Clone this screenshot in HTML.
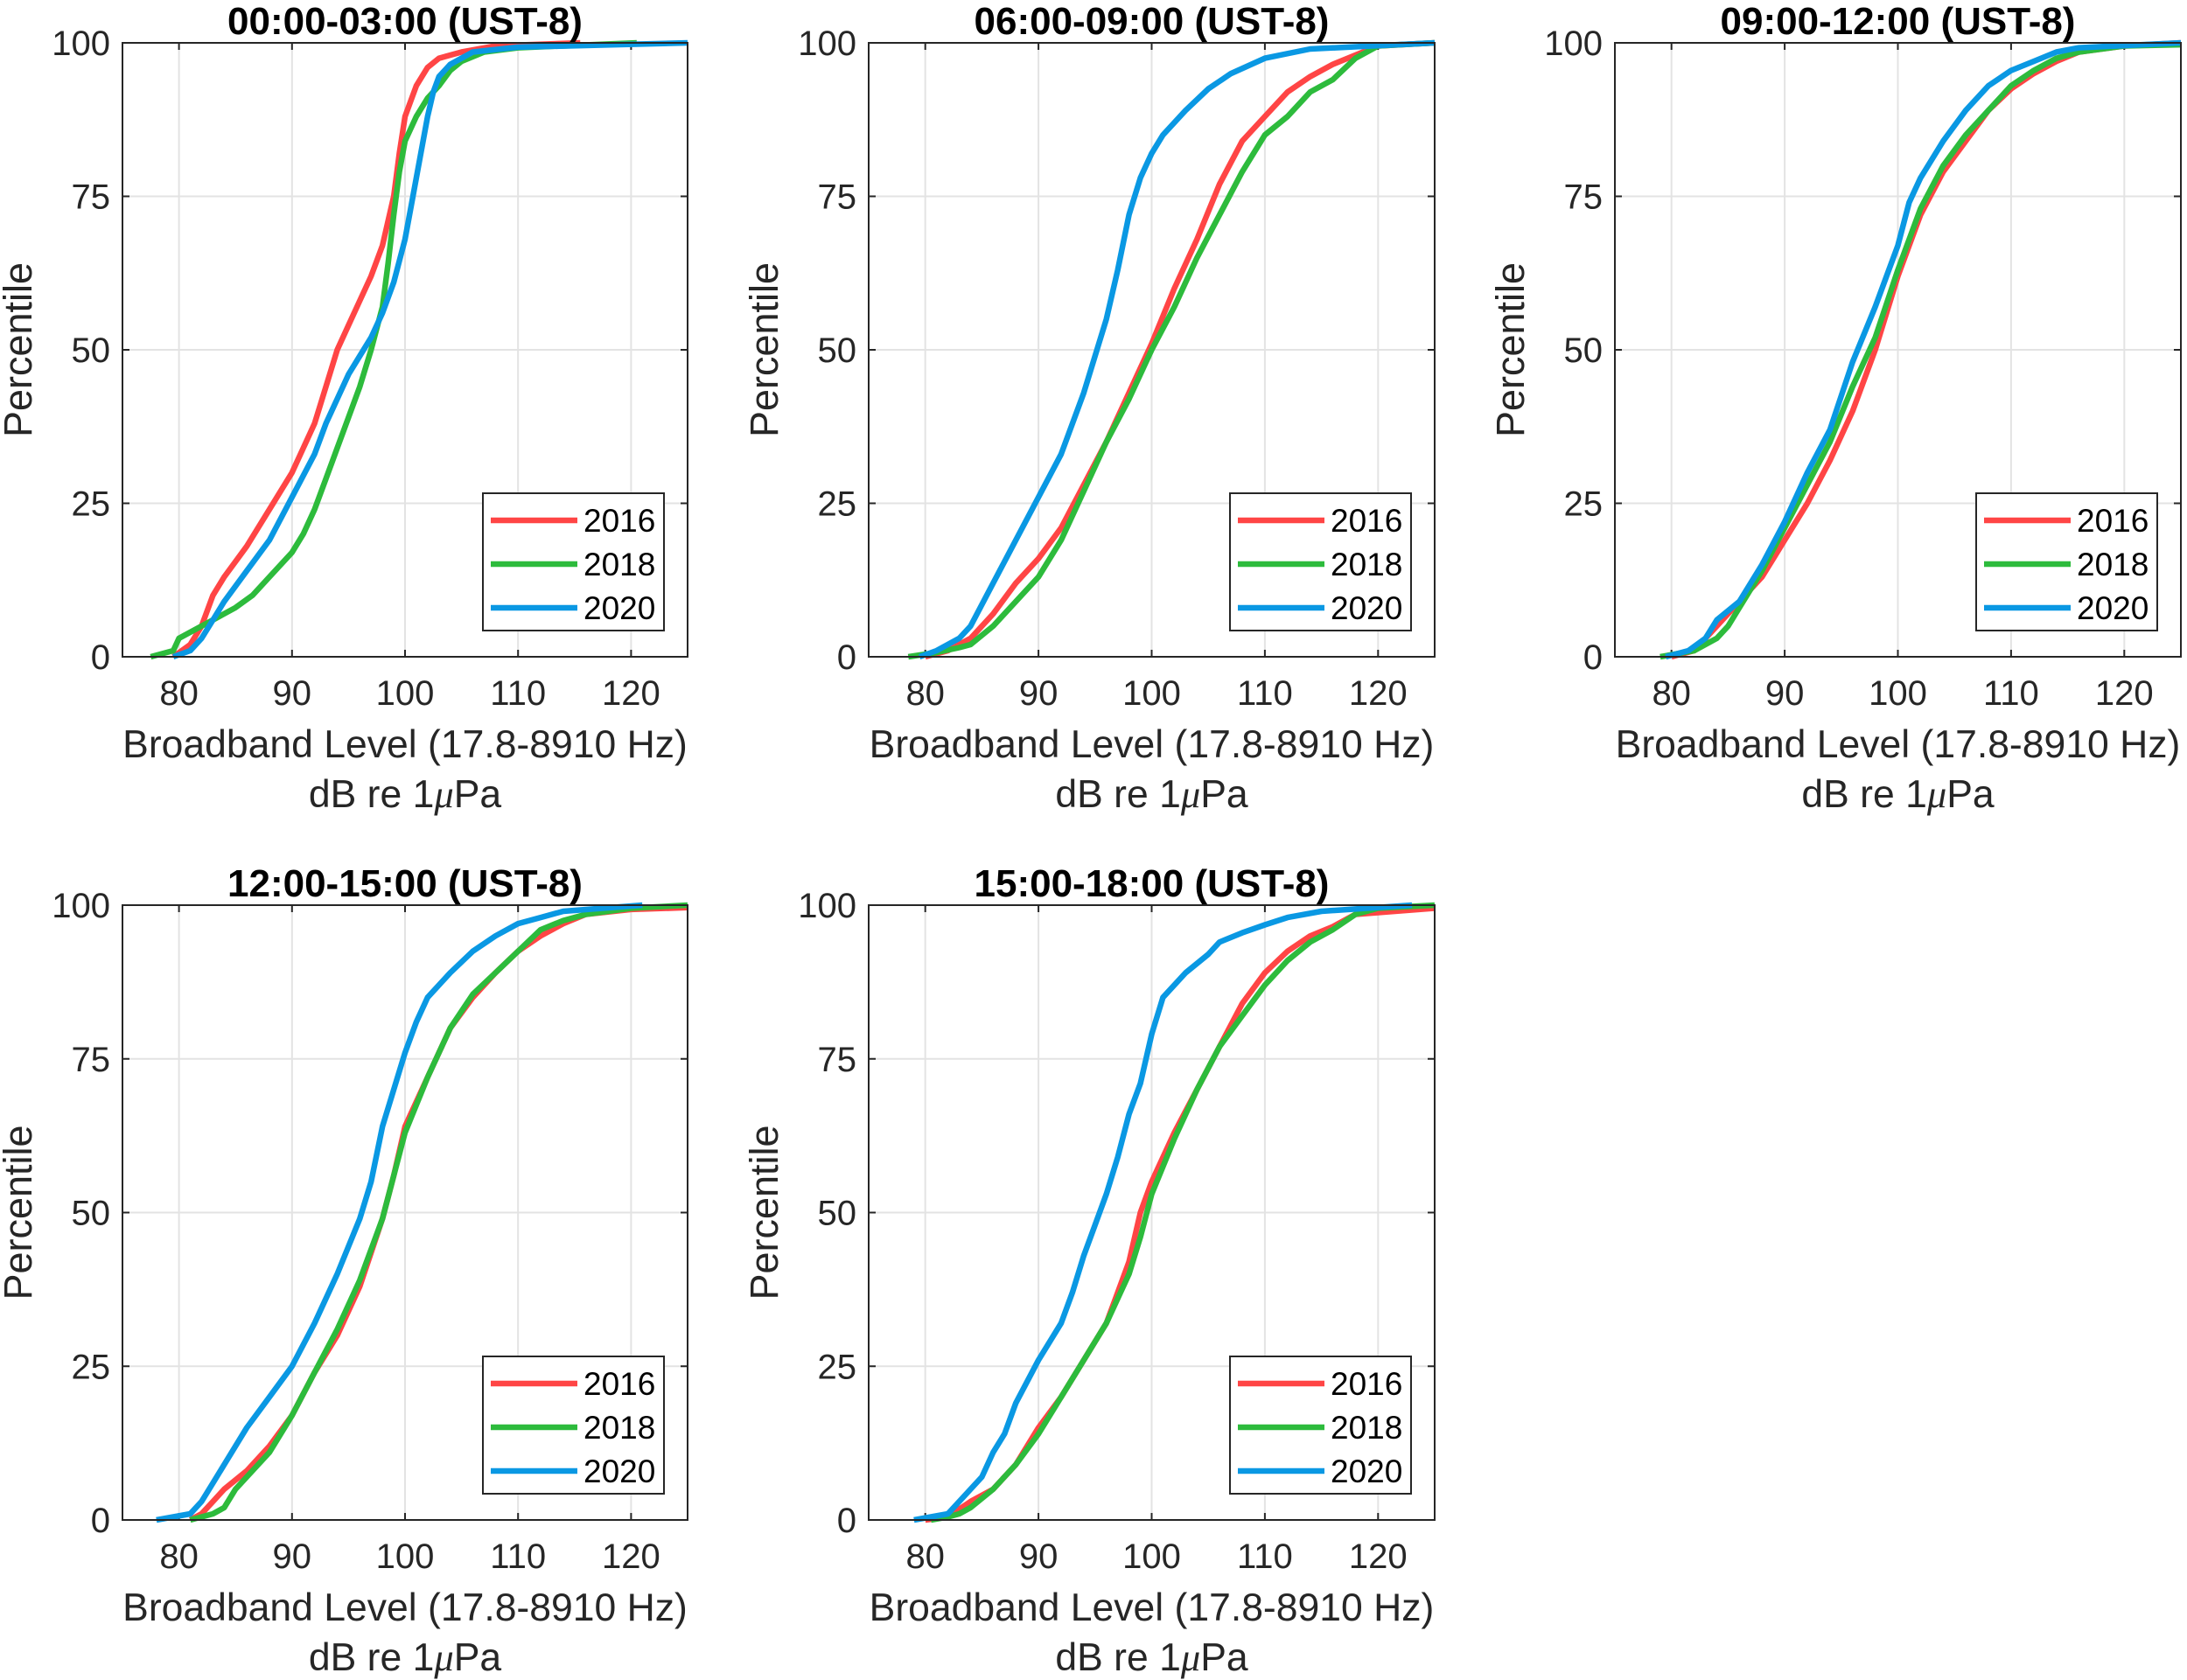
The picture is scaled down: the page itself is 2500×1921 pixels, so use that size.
<!DOCTYPE html>
<html><head><meta charset="utf-8">
<style>
html,body{margin:0;padding:0;background:#fff;}
svg{display:block;font-family:"Liberation Sans",Arial,sans-serif;}
</style></head>
<body>
<svg id="fig" width="2500" height="1921" viewBox="0 0 2500 1921" xmlns="http://www.w3.org/2000/svg"></svg>
<script>
const years = ["2016","2018","2020"];
const colors = ["#ff4545","#2dbb3c","#0a98e3"];
const titles = ["00:00-03:00 (UST-8)","06:00-09:00 (UST-8)","09:00-12:00 (UST-8)","12:00-15:00 (UST-8)","15:00-18:00 (UST-8)"];
const xTicks = [80,90,100,110,120];
const yTicks = [0,25,50,75,100];
// data: [level dB, percentile] pairs per panel per year
const p1_2016 = [[79.5,0],[81,2],[82,5],[83,10],[84,13],[86,18],[88,24],[90,30],[91,34],[92,38],[93,44],[94,50],[95,54],[96,58],[97,62],[98,67],[99,75],[99.5,82],[100,88],[101,93],[102,96],[103,97.5],[105,98.5],[108,99.5],[115.5,100]];
const p1_2018 = [[77.5,0],[79.5,1],[80,3],[81,4],[83,6],[85,8],[86.5,10],[88,13],[90,17],[91,20],[92,24],[93,29],[94,34],[95,39],[96,44],[97,50],[98,57],[98.5,64],[99,72],[99.5,79],[100,84],[101,88],[102,91],[103,93],[104,95.5],[105,97],[107,98.5],[110,99.2],[120.5,100]];
const p1_2020 = [[79.5,0],[81,1],[82,3],[83,6],[84,9],[86,14],[88,19],[90,26],[92,33],[93,38],[94,42],[95,46],[96,49],[97,52],[98,56],[99,61],[100,68],[101,78],[102,88],[102.5,92],[103,94.5],[104,96.5],[106,98.5],[110,99.3],[125,100]];
const p2_2016 = [[80,0],[82,1],[84,3],[86,7],[88,12],[90,16],[92,21],[94,28],[96,35],[98,43],[100,51],[102,60],[104,68],[106,77],[108,84],[110,88],[112,92],[114,94.5],[116,96.5],[118,98],[120,99.5],[125,100]];
const p2_2018 = [[78.5,0],[81,0.7],[83,1.5],[84,2],[86,5],[88,9],[90,13],[92,19],[94,27],[96,35],[98,42],[100,50],[102,57],[104,65],[106,72],[108,79],[110,85],[112,88],[114,92],[116,94],[118,97.5],[120,99.5],[125,100]];
const p2_2020 = [[79.5,0],[81,1],[83,3],[84,5],[86,12],[88,19],[90,26],[92,33],[94,43],[96,55],[97,63],[98,72],[99,78],[100,82],[101,85],[103,89],[105,92.5],[107,95],[110,97.5],[114,99],[125,100]];
const p3_2016 = [[80,0],[82,1],[84,5],[86,9],[88,13],[90,19],[92,25],[94,32],[96,40],[98,50],[100,62],[102,72],[104,79],[106,84],[108,89],[110,92.5],[112,95],[114,97],[116,98.5],[120,99.5],[125,100]];
const p3_2018 = [[79,0],[82,1],[84,3],[85,5],[86,8],[88,14],[90,21],[92,28],[94,35],[96,44],[98,52],[100,63],[102,73],[104,80],[106,85],[108,89],[110,93],[112,95.5],[114,97.5],[116,98.5],[120,99.5],[125,99.7]];
const p3_2020 = [[79.5,0],[81.5,1],[83,3],[84,6],[86,9],[88,15],[90,22],[92,30],[94,37],[96,48],[98,57],[100,67],[101,74],[102,78],[104,84],[106,89],[108,93],[110,95.5],[112,97],[114,98.5],[116,99.2],[125,100]];
const p4_2016 = [[81,0],[82,1],[83,3],[84,5],[86,8],[88,12],[90,17],[92,24],[94,30],[96,38],[98,49],[99,56],[100,64],[102,72],[104,80],[106,85],[108,89],[110,92.5],[112,95],[114,97],[116,98.5],[120,99.3],[125,99.6]];
const p4_2018 = [[81,0],[83,1],[84,2],[85,5],[86,7],[88,11],[90,17],[92,24],[94,31],[96,39],[98,49],[99,56],[100,63],[102,72],[104,80],[106,85.5],[108,89],[110,92.5],[112,96],[114,97.5],[116,98.5],[120,99.5],[125,100]];
const p4_2020 = [[78,0],[81,1],[82,3],[83,6],[84,9],[86,15],[88,20],[90,25],[92,32],[94,40],[96,49],[97,55],[98,64],[99,70],[100,76],[101,81],[102,85],[104,89],[106,92.5],[108,95],[110,97],[112,98],[114,99],[121,100]];
const p5_2016 = [[80,0],[82,0.5],[84,3],[86,5],[88,9],[90,15],[92,20],[94,26],[96,32],[97,37],[98,42],[99,50],[100,55],[102,63],[104,70],[106,77],[108,84],[110,89],[112,92.5],[114,95],[116,96.5],[118,98.5],[125,99.5]];
const p5_2018 = [[80.5,0],[82,0.5],[83,1],[84,2],[86,5],[88,9],[90,14],[92,20],[94,26],[96,32],[98,40],[99,46],[100,53],[102,62],[104,70],[106,77],[108,82],[110,87],[112,91],[114,94],[116,96],[118,98.5],[120,99.5],[125,100]];
const p5_2020 = [[79,0],[82,1],[83,3],[84,5],[85,7],[86,11],[87,14],[88,19],[90,26],[92,32],[93,37],[94,43],[95,48],[96,53],[97,59],[98,66],[99,71],[100,79],[101,85],[103,89],[105,92],[106,94],[108,95.5],[110,96.8],[112,98],[115,99],[123,100]];
const panelData = [[p1_2016,p1_2018,p1_2020],[p2_2016,p2_2018,p2_2020],[p3_2016,p3_2018,p3_2020],[p4_2016,p4_2018,p4_2020],[p5_2016,p5_2018,p5_2020]];

const NS="http://www.w3.org/2000/svg";
const svg=document.getElementById('fig');
function mk(tag,attrs,parent){const e=document.createElementNS(NS,tag);for(const k in attrs)e.setAttribute(k,attrs[k]);(parent||svg).appendChild(e);return e;}
const boxes=[[140,49,786,751],[993,49,1640,751],[1846,49,2493,751],[140,1035,786,1738],[993,1035,1640,1738]];
const X0=75,X1=125;
boxes.forEach((b,pi)=>{
  const [L,T,R,B]=b;
  const g=mk('g',{});
  
  
  const xs=v=>L+(v-X0)/(X1-X0)*(R-L);
  const ys=v=>B-v/100*(B-T);
  mk('rect',{x:L,y:T,width:R-L,height:B-T,fill:'#fff'},g);
  xTicks.forEach(t=>{
    const gl=mk('line',{x1:xs(t),x2:xs(t),y1:T,y2:B,stroke:'#e3e3e3','stroke-width':2},g);
    
    
    mk('line',{x1:xs(t),x2:xs(t),y1:B,y2:B-8,stroke:'#262626','stroke-width':2},g);
    mk('line',{x1:xs(t),x2:xs(t),y1:T,y2:T+8,stroke:'#262626','stroke-width':2},g);
    const tl=mk('text',{x:xs(t),y:B+55,'text-anchor':'middle','font-size':40,fill:'#262626'},g);
    tl.textContent=t;
    
    
  });
  yTicks.forEach(t=>{
    const gl=mk('line',{x1:L,x2:R,y1:ys(t),y2:ys(t),stroke:'#e3e3e3','stroke-width':2},g);
    
    
    mk('line',{x1:L,x2:L+8,y1:ys(t),y2:ys(t),stroke:'#262626','stroke-width':2},g);
    mk('line',{x1:R,x2:R-8,y1:ys(t),y2:ys(t),stroke:'#262626','stroke-width':2},g);
    const tl=mk('text',{x:L-14,y:ys(t)+14,'text-anchor':'end','font-size':40,fill:'#262626'},g);
    tl.textContent=t;
    
    
  });
  panelData[pi].forEach((ser,si)=>{
    const d=ser.map((p,i)=>(i?'L':'M')+xs(p[0]).toFixed(1)+' '+ys(p[1]).toFixed(1)).join(' ');
    const pth=mk('path',{d:d,fill:'none',stroke:colors[si],'stroke-width':6.5,'stroke-linejoin':'round'},g);
    
    
  });
  const fr=mk('rect',{x:L,y:T,width:R-L,height:B-T,fill:'none',stroke:'#262626','stroke-width':2},g);
  
  
  const tt=mk('text',{x:(L+R)/2,y:T-10,'text-anchor':'middle','font-size':44,'font-weight':'bold',fill:'#000'},g);
  tt.textContent=titles[pi];
  
  
  const xl1=mk('text',{x:(L+R)/2,y:B+115,'text-anchor':'middle','font-size':44.5,fill:'#262626'},g);
  xl1.textContent='Broadband Level (17.8-8910 Hz)';
  
  
  const xl2=mk('text',{x:(L+R)/2,y:B+172,'text-anchor':'middle','font-size':44.5,fill:'#262626'},g);
  xl2.innerHTML='dB re 1<tspan font-family="Liberation Serif" font-style="italic">μ</tspan>Pa';
  
  
  const yl=mk('text',{x:0,y:0,'text-anchor':'middle','font-size':45,fill:'#262626',transform:`translate(${L-104},${(T+B)/2}) rotate(-90)`},g);
  yl.textContent='Percentile';
  
  
  const lg=mk('g',{},g);
  
  
  const lx=R-234,ly=B-187;
  mk('rect',{x:lx,y:ly,width:207,height:157,fill:'#fff',stroke:'#262626','stroke-width':2},lg);
  years.forEach((y,si)=>{
    const e=mk('g',{},lg);
    
    
    const cy=ly+31+si*50;
    mk('line',{x1:lx+9,x2:lx+108,y1:cy,y2:cy,stroke:colors[si],'stroke-width':6.5},e);
    const t=mk('text',{x:lx+115,y:cy+13,'font-size':37,fill:'#000'},e);
    t.textContent=y;
  });
});
</script>
</body></html>
